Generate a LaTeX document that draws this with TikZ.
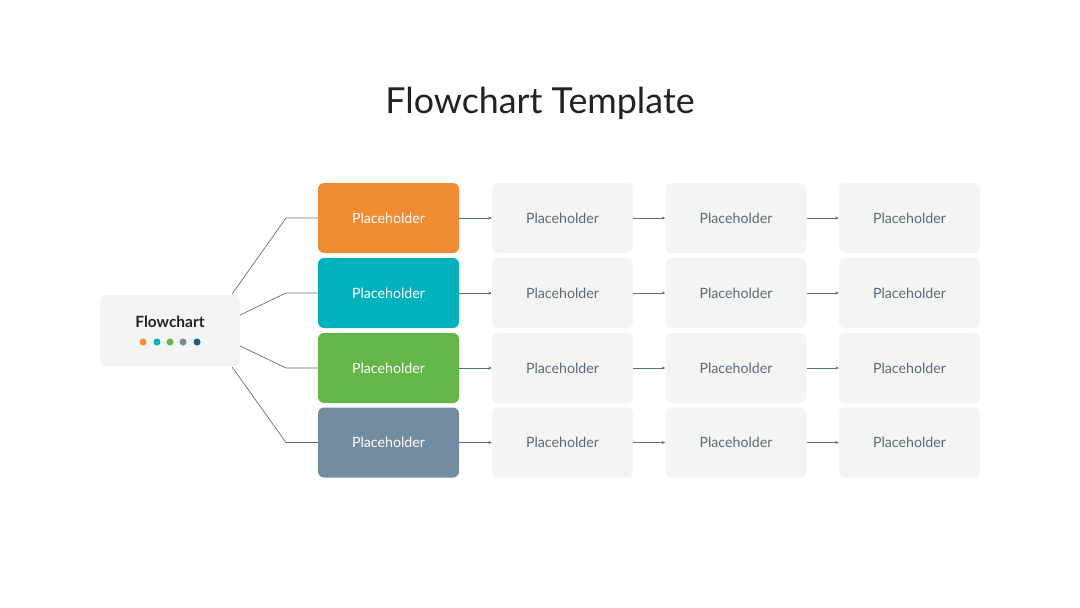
\documentclass[tikz,border=0pt]{standalone}
\usepackage{fontspec}
\setmainfont{Lato}
\usetikzlibrary{arrows.meta,calc}
\definecolor{cOrange}{HTML}{F28C33}
\definecolor{cTeal}{HTML}{00B1BE}
\definecolor{cGreen}{HTML}{63B648}
\definecolor{cSlate}{HTML}{728CA0}
\definecolor{cDark}{HTML}{1D5B79}
\definecolor{cLight}{HTML}{F3F4F4}
\definecolor{cLine}{HTML}{5C6F80}
\definecolor{cText}{HTML}{5B6B7B}
\definecolor{cTitle}{HTML}{222222}
\begin{document}
\begin{tikzpicture}[x=1pt,y=-1pt,
  box/.style={rounded corners=6pt,minimum width=141pt,minimum height=70pt,inner sep=0pt,font=\fontsize{14.2}{16}\selectfont},
  lbox/.style={box,fill=cLight,text=cText},
  cbox/.style={box,text=white},
  conn/.style={draw=cLine,line width=0.7pt},
  arr/.style={conn,-{Stealth[length=3.5pt,width=3pt]}},
  dot/.style={circle,inner sep=0pt,minimum size=7pt}]
\useasboundingbox (0,0) rectangle (1080,608);
\node[text=cTitle,font=\fontsize{35.8}{40}\selectfont] (title) at (540,103) {Flowchart Template};
\node[rounded corners=6pt,fill=cLight,minimum width=140pt,minimum height=71pt,inner sep=0pt] (fc) at (170,330.5) {};
\node[text=cTitle,font=\fontsize{15.5}{17}\selectfont\bfseries] (fct) at (170,322) {Flowchart};
\node[dot,fill=cOrange] (d1) at (143,342) {};
\node[dot,fill=cTeal] (d2) at (157,342) {};
\node[dot,fill=cGreen] (d3) at (170,342) {};
\node[dot,fill=cSlate] (d4) at (183,342) {};
\node[dot,fill=cDark] (d5) at (197,342) {};
\foreach \r/\y/\c in {1/218/cOrange,2/293/cTeal,3/368/cGreen,4/442.5/cSlate}{
  \node[cbox,fill=\c] (a\r) at (388.5,\y) {Placeholder};
  \node[lbox] (b\r) at (562.5,\y) {Placeholder};
  \node[lbox] (c\r) at (736,\y) {Placeholder};
  \node[lbox] (e\r) at (909.5,\y) {Placeholder};
  \draw[arr] (a\r) -- (b\r);
  \draw[arr] (b\r) -- (c\r);
  \draw[arr] (c\r) -- (e\r);
}
\coordinate (s1) at ($(fc.north east)+(-8,-1)$);
\coordinate (s2) at ($(fc.east)+(0,-15.5)$);
\coordinate (s3) at ($(fc.east)+(0,15.5)$);
\coordinate (s4) at ($(fc.south east)+(-8,1)$);
\draw[conn] (s1) -- (286,218) -- (a1.west);
\draw[conn] (s2) -- (286,293) -- (a2.west);
\draw[conn] (s3) -- (286,368) -- (a3.west);
\draw[conn] (s4) -- (286,442.5) -- (a4.west);
\end{tikzpicture}
\end{document}
